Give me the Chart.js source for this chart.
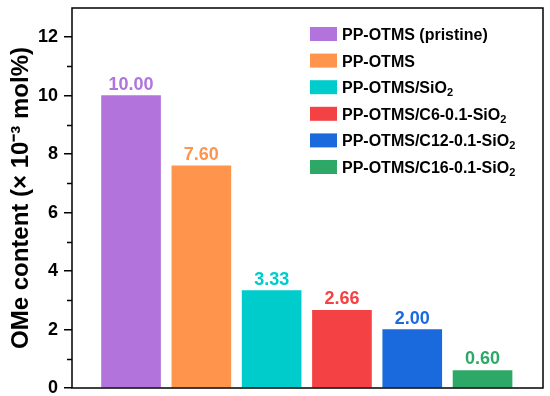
<!DOCTYPE html>
<html lang="en">
<head>
  <meta charset="UTF-8">
  <title>OMe content</title>
  <script src="https://cdn.jsdelivr.net/npm/chart.js"></script>
  <style>
    body { margin: 0; background: #fff; }
  </style>
</head>
<body>
  <canvas id="chart" width="550" height="396"></canvas>

  <script>
    const categories = ['PP-OTMS (pristine)', 'PP-OTMS', 'PP-OTMS/SiO₂', 'PP-OTMS/C6-0.1-SiO₂', 'PP-OTMS/C12-0.1-SiO₂', 'PP-OTMS/C16-0.1-SiO₂'];
    const positions = [1, 2, 3, 4, 5, 6];
    const omeValues = [10.00, 7.60, 3.33, 2.66, 2.00, 0.60];
    const barColors = ['#b273dc', '#ff944d', '#00cccc', '#f44143', '#1a6add', '#2ea866'];
    const yMinorTicks = [1, 3, 5, 7, 9, 11];

    const FONT = '"Liberation Sans", Arial, sans-serif';

    // value labels above bars
    const valueLabels = {
      id: 'valueLabels',
      afterDatasetsDraw(chart) {
        const ctx = chart.ctx;
        const meta = chart.getDatasetMeta(0);
        ctx.save();
        ctx.font = 'bold 18px ' + FONT;
        ctx.textAlign = 'center';
        ctx.textBaseline = 'bottom';
        meta.data.forEach((bar, i) => {
          ctx.fillStyle = barColors[i];
          ctx.fillText(omeValues[i].toFixed(2), bar.x, bar.y - 2);
        });
        ctx.restore();
      }
    };

    // frame, minor ticks and legend
    const frame = {
      id: 'frame',
      afterDraw(chart) {
        const ctx = chart.ctx;
        const a = chart.chartArea;
        const y = chart.scales.y;
        ctx.save();
        ctx.strokeStyle = '#000';
        ctx.lineWidth = 1.5;
        ctx.strokeRect(a.left, a.top, a.right - a.left, a.bottom - a.top);
        ctx.beginPath();
        yMinorTicks.forEach(v => {
          const py = Math.round(y.getPixelForValue(v)) + 0.5;
          ctx.moveTo(a.left, py);
          ctx.lineTo(a.left - 5, py);
        });
        ctx.stroke();

        // legend, with "₂" drawn as a real subscript
        ctx.textBaseline = 'alphabetic';
        ctx.textAlign = 'left';
        categories.forEach((name, i) => {
          const cy = 34 + i * 26.6;
          ctx.fillStyle = barColors[i];
          ctx.fillRect(310, cy - 7, 27, 14);
          ctx.fillStyle = '#000';
          let x = 342;
          const base = cy + 6;
          name.split('₂').forEach((part, j) => {
            if (j > 0) {
              ctx.font = 'bold 11px ' + FONT;
              ctx.fillText('2', x, base + 3);
              x += ctx.measureText('2').width;
            }
            ctx.font = 'bold 16px ' + FONT;
            ctx.fillText(part, x, base);
            x += ctx.measureText(part).width;
          });
        });
        ctx.restore();
      }
    };

    new Chart(document.getElementById('chart'), {
      type: 'bar',
      data: {
        datasets: [{
          data: positions.map((p, i) => ({ x: p, y: omeValues[i] })),
          backgroundColor: barColors,
          borderWidth: 0,
          barThickness: 59
        }]
      },
      options: {
        responsive: false,
        animation: false,
        layout: { padding: { top: 8, right: 7, bottom: 8, left: 0 } },
        plugins: {
          legend: { display: false },
          tooltip: { enabled: false }
        },
        scales: {
          x: {
            type: 'linear',
            min: 0.16,
            max: 6.86,
            offset: false,
            display: false
          },
          y: {
            min: 0,
            max: 13,
            border: { display: false },
            grid: {
              drawOnChartArea: false,
              drawTicks: true,
              tickLength: 8,
              lineWidth: 1.5,
              color: ctx => (ctx.tick && ctx.tick.value % 2 === 0 && ctx.tick.value <= 12) ? '#000' : 'rgba(0,0,0,0)'
            },
            ticks: {
              stepSize: 1,
              padding: 6,
              color: '#000',
              font: { family: FONT, size: 18, weight: 'bold' },
              callback: v => (v % 2 === 0 ? v : '')
            },
            title: {
              display: true,
              text: 'OMe content (× 10⁻³ mol%)',
              color: '#000',
              padding: { top: 7, bottom: 0 },
              font: { family: FONT, size: 24, weight: 'bold' }
            },
            afterFit(scale) {
              scale.width = 72;
              scale.paddingTop = 0;
              scale.paddingBottom = 0;
            }
          }
        }
      },
      plugins: [valueLabels, frame]
    });
  </script>
</body>
</html>
